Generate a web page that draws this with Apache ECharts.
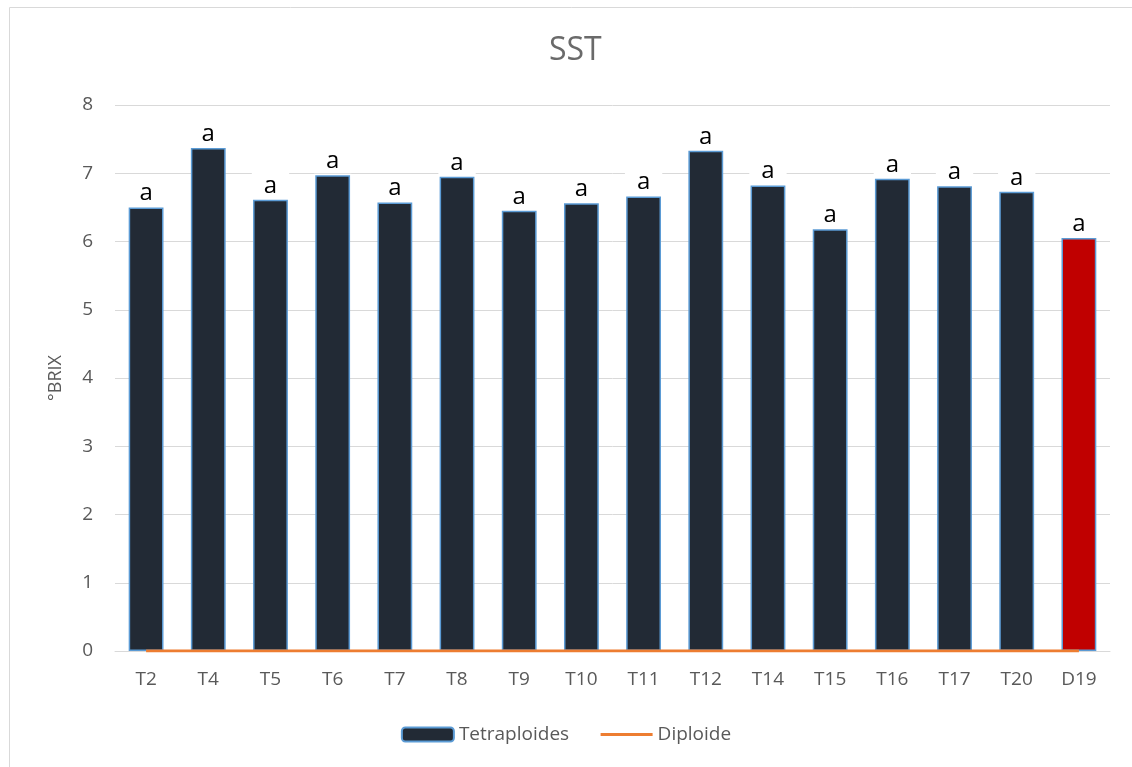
<!DOCTYPE html>
<html>
<head>
<meta charset="utf-8">
<title>SST</title>
<script src="https://cdn.jsdelivr.net/npm/echarts@6/dist/echarts.min.js"></script>
<style>
  html, body { margin: 0; padding: 0; background: #fff; }
  #chart { width: 1132px; height: 767px; }
</style>
</head>
<body>
<div id="chart"></div>
<script>
var categories = ['T2', 'T4', 'T5', 'T6', 'T7', 'T8', 'T9', 'T10', 'T11', 'T12', 'T14', 'T15', 'T16', 'T17', 'T20', 'D19'];
var tetraValues = [6.50, 7.37, 6.61, 6.97, 6.57, 6.95, 6.45, 6.56, 6.66, 7.33, 6.82, 6.18, 6.92, 6.81, 6.73, 6.05];
var diploideValues = [0, 0, 0, 0, 0, 0, 0, 0, 0, 0, 0, 0, 0, 0, 0, 0];
var letters = ['a', 'a', 'a', 'a', 'a', 'a', 'a', 'a', 'a', 'a', 'a', 'a', 'a', 'a', 'a', 'a'];
var highlight = 'D19';

var font = 'Open Sans';
var grey = '#595959';

var barData = tetraValues.map(function (v, i) {
  var item = { value: v };
  if (categories[i] === highlight) {
    item.itemStyle = { color: '#C00000' };
  }
  return item;
});

var chart = echarts.init(document.getElementById('chart'));
var option = {
  textStyle: { fontFamily: font },
  title: {
    text: 'SST',
    left: 544,
    top: 30,
    textStyle: { fontFamily: font, fontSize: 32, fontWeight: 'normal', color: '#6a6a6a' }
  },
  graphic: [{
    type: 'rect',
    silent: true,
    shape: { x: 9.5, y: 7.5, width: 1200, height: 800 },
    style: { fill: 'none', stroke: '#D9D9D9', lineWidth: 1 }
  }],
  grid: { left: 115, right: 22, top: 105, bottom: 116 },
  legend: {
    bottom: 18,
    left: 'center',
    itemWidth: 52,
    itemHeight: 14,
    itemGap: 30,
    textStyle: { fontFamily: font, fontSize: 19, color: grey },
    data: [
      { name: 'Tetraploides' },
      { name: 'Diploide', itemStyle: { opacity: 0 }, lineStyle: { width: 3, color: '#ED7D31' } }
    ]
  },
  xAxis: {
    type: 'category',
    data: categories,
    axisTick: { show: false },
    axisLine: { lineStyle: { color: '#D9D9D9' } },
    axisLabel: { fontFamily: font, fontSize: 19, color: grey, margin: 19 }
  },
  yAxis: {
    type: 'value',
    min: 0,
    max: 8,
    interval: 1,
    name: '°BRIX',
    nameLocation: 'middle',
    nameGap: 50,
    nameRotate: 90,
    nameTextStyle: { fontFamily: font, fontSize: 18, color: grey },
    axisLine: { show: false },
    axisTick: { show: false },
    axisLabel: { fontFamily: font, fontSize: 19, color: grey, margin: 22 },
    splitLine: { lineStyle: { color: '#D9D9D9', width: 1 } }
  },
  series: [{
    name: 'Tetraploides',
    type: 'bar',
    data: barData,
    barCategoryGap: '44%',
    itemStyle: { color: '#222A35', borderColor: '#5B9BD5', borderWidth: 1.5 },
    label: {
      show: true,
      position: 'top',
      distance: 2,
      fontFamily: font,
      fontSize: 24,
      color: '#000',
      backgroundColor: '#fff',
      padding: [2, 12, 0, 12],
      formatter: function (p) { return letters[p.dataIndex]; }
    }
  }, {
    name: 'Diploide',
    type: 'line',
    data: diploideValues,
    symbol: 'none',
    z: 5,
    itemStyle: { color: '#ED7D31' },
    lineStyle: { color: '#ED7D31', width: 3 }
  }]
};
chart.setOption(option);
</script>
</body>
</html>
